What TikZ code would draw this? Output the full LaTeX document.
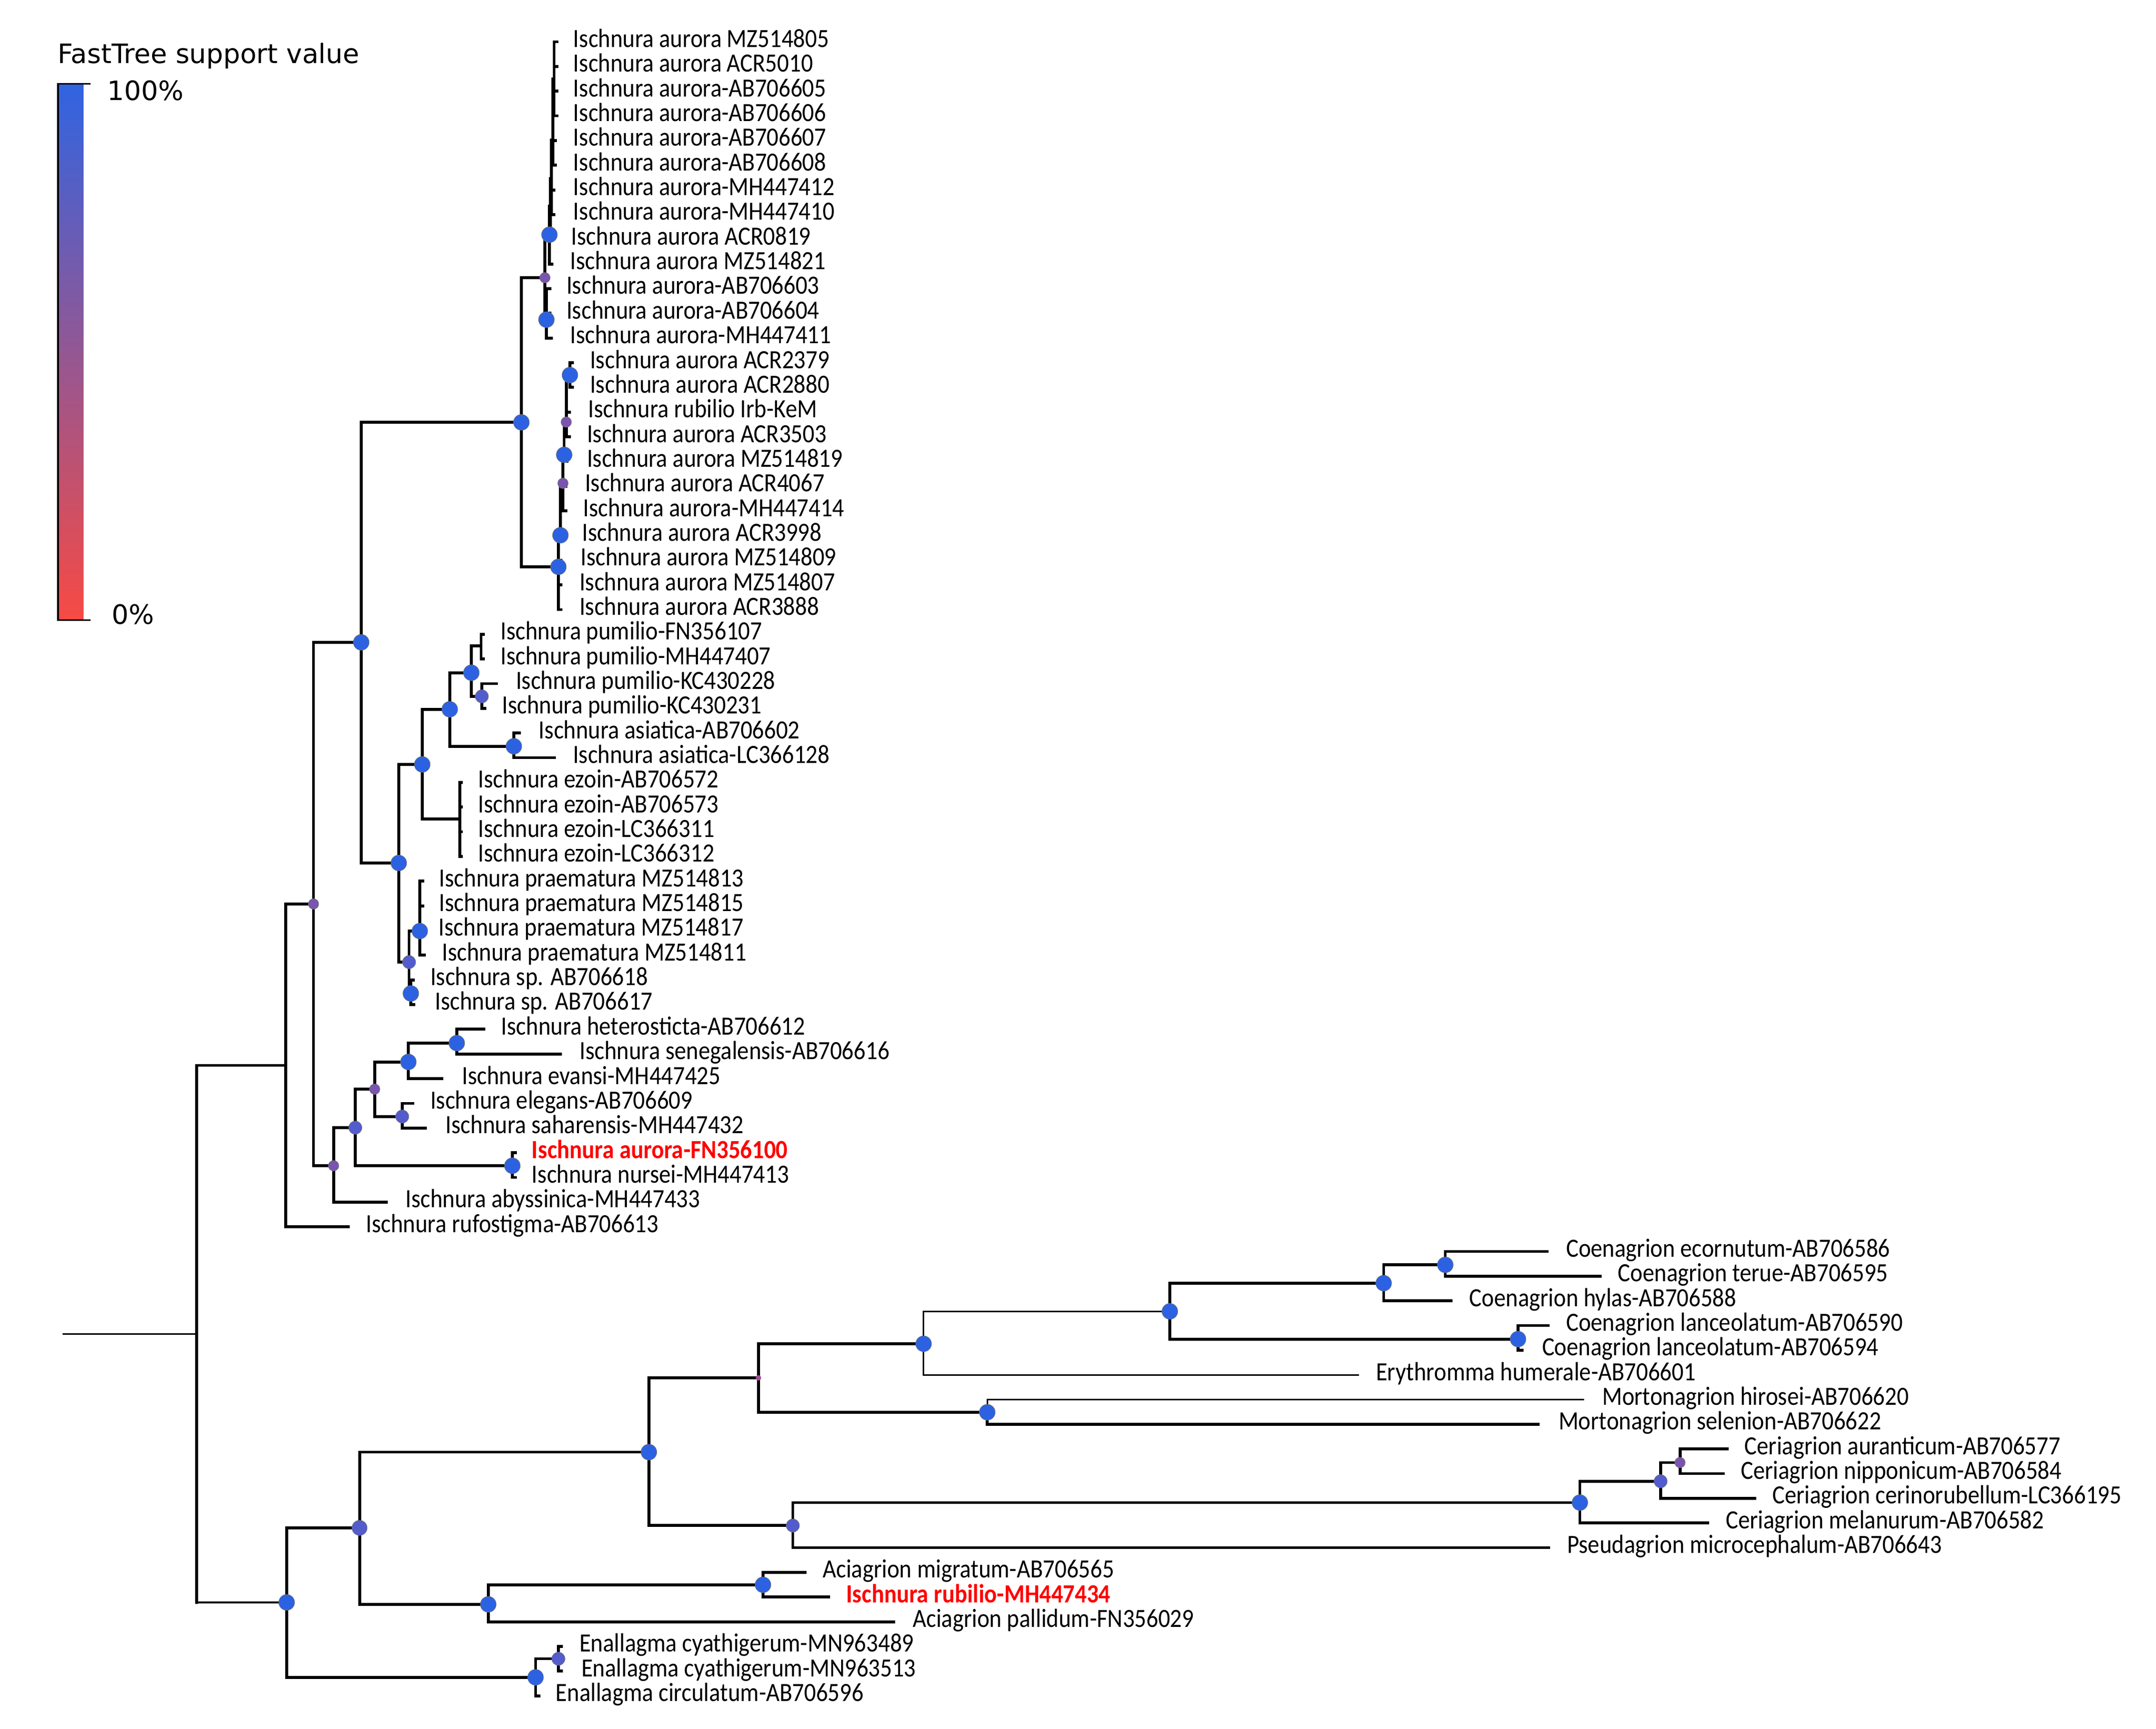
\documentclass[tikz,border=0pt]{standalone}
\usepackage{fontspec}
\newfontfamily\labfont[FakeStretch=0.89]{Carlito}
\newfontfamily\legfont{DejaVu Sans}
\definecolor{sBlue}{RGB}{44,98,226}
\definecolor{sBlueP}{RGB}{82,92,205}
\definecolor{sPurp}{RGB}{122,84,176}
\definecolor{sTiny}{RGB}{160,78,150}
\definecolor{labred}{RGB}{255,0,0}
\definecolor{legtop}{RGB}{48,100,226}
\definecolor{legmid}{RGB}{150,86,155}
\definecolor{legbot}{RGB}{247,74,68}
\newcommand\tleaf[7][br]{%
  \coordinate (t#2) at (#4,#5);
  \draw[#1] (#3) |- (t#2);
  \node[lab] (l#2) at (#6,#5+4) {#7};}
\newcommand\sdot[2]{\node[#1] (d#2) at (#2) {};}
\begin{document}
\begin{tikzpicture}[x=1pt,y=-1pt,
  br/.style={line width=2.1pt,line cap=rect},
  brthin/.style={line width=1.15pt,line cap=rect},
  lab/.style={anchor=base west,inner sep=0pt,font={\labfont\fontsize{19.1pt}{20pt}\selectfont}},
  leg/.style={anchor=base west,inner sep=0pt,font={\legfont\fontsize{19.4pt}{21pt}\selectfont}},
  dotbase/.style={circle,inner sep=0pt,draw=black!55,line width=0.3pt},
  dbig/.style={dotbase,fill=sBlue,minimum size=11.5pt},
  dbigp/.style={dotbase,fill=sBlueP,minimum size=11pt},
  dmid/.style={dotbase,fill=sBlueP,minimum size=9.6pt},
  dsmall/.style={dotbase,fill=sPurp,minimum size=7.6pt},
  dtiny/.style={circle,inner sep=0pt,fill=sTiny,minimum size=4pt}]
\useasboundingbox (0,0) rectangle (1568,1257.6);

% ---------- legend ----------
\node[leg] (legtitle) at (42,46) {FastTree support value};
\shade[top color=legtop,middle color=legmid,bottom color=legbot] (42.2,61) rectangle (60.6,451);
\coordinate (bt1) at (66,61);
\coordinate (bt2) at (42.2,61);
\coordinate (bb2) at (42.2,451);
\coordinate (bb1) at (66,451);
\draw[line width=1.2pt] (bt1) -- (bt2) -- (bb2) -- (bb1);
\node[leg] (leg100) at (78,73) {100\%};
\node[leg] (leg0) at (81,454) {0\%};

% ---------- internal nodes ----------
\coordinate (root) at (46.2,970.2);
\coordinate (R0) at (143,970.2);
\coordinate (nA) at (207.8,774.9);
\coordinate (nB) at (228,657.5);
\coordinate (nC) at (262.7,467.2);
\coordinate (nE) at (379.2,307.2);
\coordinate (nG) at (396.3,202);
\coordinate (nU) at (399.6,170.7);
\coordinate (u1) at (400.3,150);
\coordinate (u2) at (401,130);
\coordinate (u3) at (402,102);
\coordinate (u4) at (403,57.3);
\coordinate (nL) at (397.4,232.5);
\coordinate (nH) at (406.1,412.3);
\coordinate (n5) at (407.6,389.3);
\coordinate (n4) at (409.4,351.5);
\coordinate (n3) at (410.3,330.8);
\coordinate (n2) at (411.8,307);
\coordinate (n1) at (414.5,272.8);
\coordinate (nF) at (290,627.7);
\coordinate (nI) at (307.1,556);
\coordinate (nK) at (327.1,515.9);
\coordinate (nP) at (342.8,489.3);
\coordinate (nPP) at (349.9,469.8);
\coordinate (nKC) at (350.4,506.5);
\coordinate (nQ) at (373.7,542.8);
\coordinate (nEZ) at (334.4,595.7);
\coordinate (nJ) at (297.5,699.8);
\coordinate (nR) at (305.3,677.2);
\coordinate (nS) at (298.8,722.6);
\coordinate (nD) at (242.6,847.9);
\coordinate (nT) at (258.4,820.2);
\coordinate (nU2) at (272.5,792.2);
\coordinate (nW) at (297,772.4);
\coordinate (nY) at (332.2,758.7);
\coordinate (nX) at (292.5,812.1);
\coordinate (nV) at (372.6,847.9);
\coordinate (z0) at (208.5,1165.5);
\coordinate (z1) at (261.5,1111.3);
\coordinate (z2) at (471.9,1056.2);
\coordinate (z3) at (355.1,1166.9);
\coordinate (z4) at (551.6,1002.2);
\coordinate (z5) at (576.6,1109.6);
\coordinate (z6) at (671.7,977.4);
\coordinate (z7) at (718,1027.2);
\coordinate (z8) at (850.8,953.8);
\coordinate (z9) at (1006.3,933.3);
\coordinate (z10) at (1104,974);
\coordinate (z11) at (1051.1,920);
\coordinate (ce) at (1149,1092.9);
\coordinate (ce2) at (1207.7,1077.4);
\coordinate (ce3) at (1221.8,1063.8);
\coordinate (ac) at (554.9,1152.7);
\coordinate (en) at (389.5,1220);
\coordinate (en2) at (406.1,1206.5);

% ---------- internal branches ----------
\draw[brthin] (root) -- (R0);
\draw[br] (nA -| R0) -- (z0 -| R0);
\draw[br] (nA -| R0) -- (nA);
\draw[brthin] (z0 -| R0) -- (z0);
\draw[br] (nA) |- (nB);
\draw[br] (nB) |- (nC);
\draw[br] (nB) |- (nD);
\draw[br] (nC) |- (nE);
\draw[br] (nC) |- (nF);
\draw[br] (nE) |- (nG);
\draw[br] (nE) |- (nH);
\draw[br] (nG) |- (nU);
\draw[br] (nG) |- (nL);
\draw[br] (nU) |- (u1);
\draw[br] (u1) |- (u2);
\draw[br] (u2) |- (u3);
\draw[br] (u3) |- (u4);
\draw[br] (nH) |- (n5);
\draw[br] (n5) |- (n4);
\draw[br] (n4) |- (n3);
\draw[br] (n3) |- (n2);
\draw[br] (n2) |- (n1);
\draw[br] (nF) |- (nI);
\draw[br] (nF) |- (nJ);
\draw[br] (nI) |- (nK);
\draw[br] (nI) |- (nEZ);
\draw[br] (nK) |- (nP);
\draw[br] (nK) |- (nQ);
\draw[br] (nP) |- (nPP);
\draw[br] (nP) |- (nKC);
\draw[br] (nJ) |- (nR);
\draw[br] (nJ) |- (nS);
\draw[br] (nD) |- (nT);
\draw[br] (nT) |- (nU2);
\draw[br] (nT) |- (nV);
\draw[br] (nU2) |- (nW);
\draw[br] (nU2) |- (nX);
\draw[br] (nW) |- (nY);
\draw[br] (z0) |- (z1);
\draw[br] (z0) |- (en);
\draw[br] (z1) |- (z2);
\draw[br] (z1) |- (z3);
\draw[br] (z2) |- (z4);
\draw[br] (z2) |- (z5);
\draw[br] (z4) |- (z6);
\draw[br] (z4) |- (z7);
\draw[brthin] (z6) |- (z8);
\draw[br] (z8) |- (z9);
\draw[br] (z8) |- (z10);
\draw[br] (z9) |- (z11);
\draw[br] (z5) |- (ce);
\draw[br] (ce) |- (ce2);
\draw[br] (ce2) |- (ce3);
\draw[br] (z3) |- (ac);
\draw[br] (en) |- (en2);

% ---------- leaves ----------
\tleaf{0}{u4}{405}{30.4}{416.8}{Ischnura aurora MZ514805}
\tleaf{1}{u4}{405}{48.36}{416.8}{Ischnura aurora ACR5010}
\tleaf{2}{u4}{405}{66.31}{416.8}{Ischnura aurora-AB706605}
\tleaf{3}{u4}{405}{84.27}{416.8}{Ischnura aurora-AB706606}
\tleaf{4}{u3}{404}{102.22}{416.8}{Ischnura aurora-AB706607}
\tleaf{5}{u3}{404}{120.18}{416.8}{Ischnura aurora-AB706608}
\tleaf{6}{u2}{403}{138.14}{416.8}{Ischnura aurora-MH447412}
\tleaf{7}{u2}{403}{156.09}{416.8}{Ischnura aurora-MH447410}
\tleaf{8}{u1}{402.5}{174.05}{415.3}{Ischnura aurora ACR0819}
\tleaf{9}{nU}{401.5}{192.0}{414.4}{Ischnura aurora MZ514821}
\tleaf{10}{nL}{400}{209.96}{411.8}{Ischnura aurora-AB706603}
\tleaf{11}{nL}{400}{227.92}{411.8}{Ischnura aurora-AB706604}
\tleaf{12}{nL}{401}{245.87}{414.4}{Ischnura aurora-MH447411}
\tleaf{13}{n1}{416.5}{263.83}{428.9}{Ischnura aurora ACR2379}
\tleaf{14}{n1}{416.5}{281.78}{428.9}{Ischnura aurora ACR2880}
\tleaf{15}{n2}{414}{299.74}{427.6}{Ischnura rubilio Irb-KeM}
\tleaf{16}{n2}{414}{317.7}{426.7}{Ischnura aurora ACR3503}
\tleaf{17}{n3}{412.5}{335.65}{426.7}{Ischnura aurora MZ514819}
\tleaf{18}{n4}{411.5}{353.61}{425.2}{Ischnura aurora ACR4067}
\tleaf{19}{n4}{411.5}{371.56}{424}{Ischnura aurora-MH447414}
\tleaf{20}{n5}{409.5}{389.52}{423.2}{Ischnura aurora ACR3998}
\tleaf{21}{nH}{408}{407.48}{422.1}{Ischnura aurora MZ514809}
\tleaf{22}{nH}{408}{425.43}{421.2}{Ischnura aurora MZ514807}
\tleaf{23}{nH}{408}{443.39}{421.2}{Ischnura aurora ACR3888}
\tleaf{24}{nPP}{351.5}{461.34}{363.8}{Ischnura pumilio-FN356107}
\tleaf{25}{nPP}{351.5}{479.3}{363.8}{Ischnura pumilio-MH447407}
\tleaf{26}{nKC}{361}{497.26}{375}{Ischnura pumilio-KC430228}
\tleaf{27}{nKC}{352.5}{515.21}{365}{Ischnura pumilio-KC430231}
\tleaf{28}{nQ}{377.7}{533.17}{391.7}{Ischnura asiatica-AB706602}
\tleaf{29}{nQ}{403.2}{551.12}{416.5}{Ischnura asiatica-LC366128}
\tleaf{30}{nEZ}{335.5}{569.08}{347.5}{Ischnura ezoin-AB706572}
\tleaf{31}{nEZ}{335.5}{587.04}{347.5}{Ischnura ezoin-AB706573}
\tleaf{32}{nEZ}{335.5}{604.99}{347.5}{Ischnura ezoin-LC366311}
\tleaf{33}{nEZ}{335.5}{622.95}{347.5}{Ischnura ezoin-LC366312}
\tleaf{34}{nR}{307.5}{640.9}{319.2}{Ischnura praematura MZ514813}
\tleaf{35}{nR}{307.5}{658.86}{319.2}{Ischnura praematura MZ514815}
\tleaf{36}{nR}{307.5}{676.82}{318.9}{Ischnura praematura MZ514817}
\tleaf{37}{nR}{308.5}{694.77}{321.2}{Ischnura praematura MZ514811}
\tleaf{38}{nS}{300.5}{712.73}{312.8}{Ischnura sp. AB706618}
\tleaf{39}{nS}{301}{730.68}{316.2}{Ischnura sp. AB706617}
\tleaf{40}{nY}{351.8}{748.64}{364.3}{Ischnura heterosticta-AB706612}
\tleaf{41}{nY}{407.5}{766.6}{421.4}{Ischnura senegalensis-AB706616}
\tleaf{42}{nW}{321.2}{784.55}{335.9}{Ischnura evansi-MH447425}
\tleaf{43}{nX}{300.2}{802.51}{312.8}{Ischnura elegans-AB706609}
\tleaf{44}{nX}{309.3}{820.46}{324}{Ischnura saharensis-MH447432}
\tleaf{45}{nV}{375}{838.42}{386.6}{\color{labred}\bfseries Ischnura aurora-FN356100}
\tleaf{46}{nV}{375}{856.38}{386.6}{Ischnura nursei-MH447413}
\tleaf{47}{nD}{280.8}{874.33}{294.7}{Ischnura abyssinica-MH447433}
\tleaf{48}{nA}{253.3}{892.29}{266}{Ischnura rufostigma-AB706613}
\tleaf{49}{z11}{1125}{910.24}{1138.8}{Coenagrion ecornutum-AB706586}
\tleaf{50}{z11}{1163.6}{928.2}{1176.5}{Coenagrion terue-AB706595}
\tleaf{51}{z9}{1055.2}{946.16}{1068.5}{Coenagrion hylas-AB706588}
\tleaf{52}{z10}{1126}{964.11}{1138.8}{Coenagrion lanceolatum-AB706590}
\tleaf{53}{z10}{1106.8}{982.07}{1121.3}{Coenagrion lanceolatum-AB706594}
\tleaf[brthin]{54}{z6}{987.7}{1000.02}{1000.5}{Erythromma humerale-AB706601}
\tleaf[brthin]{55}{z7}{1151.4}{1017.98}{1165}{Mortonagrion hirosei-AB706620}
\tleaf{56}{z7}{1118.8}{1035.94}{1133.3}{Mortonagrion selenion-AB706622}
\tleaf{57}{ce3}{1256.2}{1053.89}{1268.5}{Ceriagrion auranticum-AB706577}
\tleaf{58}{ce3}{1253.2}{1071.85}{1265.9}{Ceriagrion nipponicum-AB706584}
\tleaf{59}{ce2}{1276.1}{1089.8}{1288.8}{Ceriagrion cerinorubellum-LC366195}
\tleaf{60}{ce}{1242.1}{1107.76}{1254.9}{Ceriagrion melanurum-AB706582}
\tleaf{61}{z5}{1126.3}{1125.72}{1139.5}{Pseudagrion microcephalum-AB706643}
\tleaf{62}{ac}{585.6}{1143.67}{598.2}{Aciagrion migratum-AB706565}
\tleaf{63}{ac}{602.6}{1161.63}{615.3}{\color{labred}\bfseries Ischnura rubilio-MH447434}
\tleaf{64}{z3}{650}{1179.58}{663.6}{Aciagrion pallidum-FN356029}
\tleaf{65}{en2}{408.5}{1197.54}{421.2}{Enallagma cyathigerum-MN963489}
\tleaf{66}{en2}{408.5}{1215.5}{422.7}{Enallagma cyathigerum-MN963513}
\tleaf{67}{en}{392}{1233.45}{404}{Enallagma circulatum-AB706596}

% ---------- support dots ----------
\sdot{dsmall}{nB}
\sdot{dsmall}{nG}
\sdot{dsmall}{n2}
\sdot{dsmall}{n4}
\sdot{dsmall}{nD}
\sdot{dsmall}{ce3}
\sdot{dbig}{nC}
\sdot{dbig}{nE}
\sdot{dbig}{nU}
\sdot{dbig}{nL}
\sdot{dbig}{n1}
\sdot{dbig}{n3}
\sdot{dbig}{n5}
\sdot{dbig}{nH}
\sdot{dbig}{nF}
\sdot{dbig}{nI}
\sdot{dbig}{nK}
\sdot{dbig}{nP}
\sdot{dbig}{nQ}
\sdot{dbig}{nR}
\sdot{dbig}{nS}
\sdot{dbig}{nW}
\sdot{dbig}{nY}
\sdot{dbig}{nV}
\sdot{dbig}{z0}
\sdot{dbig}{z2}
\sdot{dbig}{z3}
\sdot{dbig}{z6}
\sdot{dbig}{z7}
\sdot{dbig}{z8}
\sdot{dbig}{z9}
\sdot{dbig}{z10}
\sdot{dbig}{z11}
\sdot{dbig}{ce}
\sdot{dbig}{ac}
\sdot{dbig}{en}
\sdot{dmid}{nKC}
\sdot{dmid}{nJ}
\sdot{dmid}{nX}
\sdot{dmid}{nT}
\sdot{dmid}{ce2}
\sdot{dmid}{en2}
\sdot{dmid}{z5}
\sdot{dsmall}{nU2}
\sdot{dbigp}{z1}
\sdot{dtiny}{z4}
\end{tikzpicture}
\end{document}
